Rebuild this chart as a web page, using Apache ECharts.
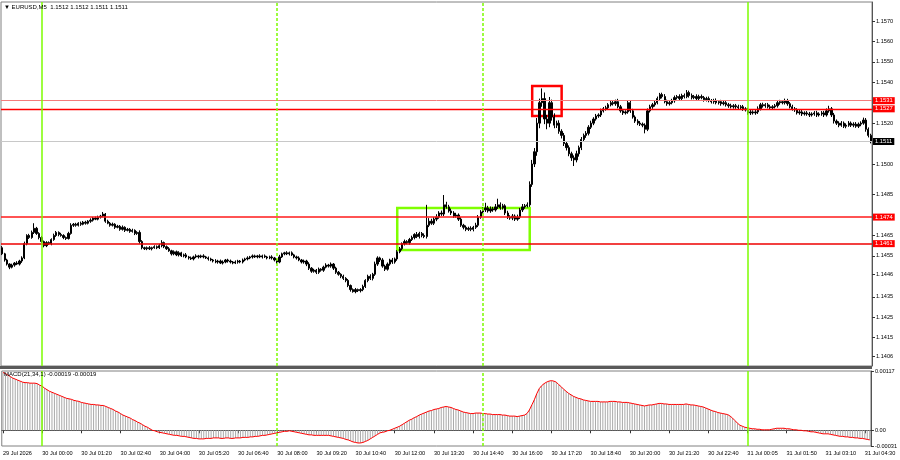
<!DOCTYPE html>
<html><head><meta charset="utf-8">
<script src="https://cdn.jsdelivr.net/npm/echarts@6/dist/echarts.min.js"></script>
<style>html,body{margin:0;padding:0;background:#fff}#c{width:900px;height:460px}</style>
</head><body><div id="c"></div>
<script>
const titleText = '\u25BC EURUSD,M5  1.1512 1.1512 1.1511 1.1511';
const macdText = 'MACD(21,34,1) -0.00019 -0.00019';
const tickLabels = ['29 Jul 2026','30 Jul 00:00','30 Jul 01:20','30 Jul 02:40','30 Jul 04:00','30 Jul 05:20','30 Jul 06:40','30 Jul 08:00','30 Jul 09:20','30 Jul 10:40','30 Jul 12:00','30 Jul 13:20','30 Jul 14:40','30 Jul 16:00','30 Jul 17:20','30 Jul 18:40','30 Jul 20:00','30 Jul 21:20','30 Jul 22:40','31 Jul 00:05','31 Jul 01:50','31 Jul 03:10','31 Jul 04:30'];
const priceTicks = [1.1570,1.1560,1.1550,1.1540,1.1520,1.1500,1.1485,1.1465,1.1455,1.1446,1.1435,1.1425,1.1415,1.1406];
const priceMin = 1.14011, priceMax = 1.15793;
const macdTicks = [0.00117, 0, -0.00031];
const macdMin = -0.00031, macdMax = 0.00117;
const firstOpen = 1.14590;
const closes = [
1.14560,1.14530,1.14510,1.14495,1.14505,1.14515,1.14510,1.14525,1.14540,1.14610,
1.14650,1.14640,1.14665,1.14685,1.14660,1.14640,1.14620,1.14600,1.14615,1.14610,
1.14630,1.14650,1.14665,1.14655,1.14650,1.14640,1.14635,1.14660,1.14700,1.14705,
1.14700,1.14710,1.14705,1.14715,1.14710,1.14720,1.14725,1.14735,1.14730,1.14740,
1.14745,1.14755,1.14720,1.14710,1.14700,1.14705,1.14690,1.14695,1.14680,1.14690,
1.14675,1.14680,1.14670,1.14675,1.14660,1.14665,1.14620,1.14590,1.14585,1.14590,
1.14585,1.14590,1.14595,1.14590,1.14600,1.14615,1.14595,1.14585,1.14575,1.14560,
1.14570,1.14555,1.14565,1.14550,1.14555,1.14545,1.14540,1.14535,1.14545,1.14550,
1.14545,1.14550,1.14545,1.14540,1.14535,1.14530,1.14525,1.14520,1.14525,1.14515,
1.14520,1.14530,1.14525,1.14520,1.14515,1.14520,1.14525,1.14520,1.14530,1.14535,
1.14540,1.14545,1.14550,1.14545,1.14550,1.14545,1.14550,1.14545,1.14540,1.14545,
1.14540,1.14530,1.14520,1.14545,1.14560,1.14565,1.14560,1.14565,1.14555,1.14545,
1.14540,1.14530,1.14520,1.14525,1.14510,1.14490,1.14475,1.14480,1.14470,1.14485,
1.14480,1.14495,1.14505,1.14500,1.14510,1.14490,1.14470,1.14460,1.14450,1.14440,
1.14430,1.14405,1.14385,1.14375,1.14385,1.14380,1.14385,1.14400,1.14430,1.14450,
1.14440,1.14460,1.14510,1.14540,1.14530,1.14500,1.14485,1.14510,1.14530,1.14520,
1.14535,1.14570,1.14585,1.14610,1.14620,1.14615,1.14630,1.14640,1.14655,1.14645,
1.14660,1.14650,1.14645,1.14700,1.14720,1.14710,1.14730,1.14740,1.14760,1.14755,
1.14800,1.14790,1.14770,1.14760,1.14745,1.14750,1.14730,1.14700,1.14690,1.14680,
1.14685,1.14680,1.14690,1.14700,1.14740,1.14765,1.14775,1.14785,1.14770,1.14780,
1.14775,1.14790,1.14800,1.14785,1.14795,1.14760,1.14740,1.14735,1.14745,1.14730,
1.14740,1.14775,1.14790,1.14795,1.14800,1.14900,1.15000,1.15060,1.15200,1.15300,
1.15320,1.15220,1.15200,1.15300,1.15230,1.15190,1.15200,1.15160,1.15140,1.15100,
1.15080,1.15050,1.15030,1.15020,1.15050,1.15080,1.15120,1.15140,1.15150,1.15180,
1.15200,1.15220,1.15235,1.15240,1.15260,1.15270,1.15275,1.15290,1.15300,1.15295,
1.15305,1.15280,1.15260,1.15250,1.15255,1.15300,1.15260,1.15230,1.15210,1.15200,
1.15195,1.15190,1.15170,1.15260,1.15280,1.15290,1.15300,1.15320,1.15340,1.15330,
1.15305,1.15295,1.15300,1.15310,1.15325,1.15330,1.15320,1.15335,1.15330,1.15350,
1.15335,1.15325,1.15330,1.15320,1.15330,1.15325,1.15315,1.15320,1.15310,1.15305,
1.15310,1.15300,1.15305,1.15295,1.15300,1.15290,1.15285,1.15280,1.15285,1.15280,
1.15275,1.15280,1.15270,1.15265,1.15250,1.15255,1.15250,1.15255,1.15270,1.15290,
1.15285,1.15290,1.15280,1.15275,1.15280,1.15285,1.15300,1.15305,1.15300,1.15310,
1.15295,1.15280,1.15270,1.15265,1.15250,1.15255,1.15245,1.15250,1.15245,1.15240,
1.15245,1.15250,1.15240,1.15245,1.15250,1.15240,1.15260,1.15270,1.15240,1.15210,
1.15200,1.15190,1.15200,1.15185,1.15190,1.15200,1.15190,1.15195,1.15185,1.15195,
1.15200,1.15215,1.15170,1.15140,1.15110];
// wick extension above the body top / below the body bottom, in points (0.00001)
const highExt = [
8,5,6,4,7,5,9,6,8,10,6,8,9,25,7,6,8,5,7,6,
6,9,7,5,8,6,5,8,10,6,7,5,8,6,7,5,9,6,8,7,
6,10,5,7,6,8,5,7,6,9,5,7,6,8,5,6,10,7,5,6,
8,5,7,6,9,12,5,6,8,5,7,6,8,5,6,9,5,7,6,8,
5,6,8,5,7,6,5,9,6,7,8,5,6,7,5,8,6,5,7,6,
8,5,7,6,5,8,6,7,5,6,8,5,7,10,6,5,8,6,7,5,
6,8,5,7,6,9,5,7,6,8,5,7,9,6,8,5,7,6,5,8,
6,7,5,6,8,5,7,9,6,8,10,7,12,8,6,9,7,8,6,10,
7,8,9,6,10,7,8,9,6,12,8,7,10,100,15,12,10,14,9,12,
48,15,10,12,9,11,8,10,7,9,8,10,7,12,10,9,12,25,10,12,
10,14,30,12,10,8,11,9,10,8,12,10,14,9,12,15,20,18,25,20,
50,30,20,28,15,18,12,14,10,12,9,11,10,12,15,10,12,9,11,10,
12,9,10,8,11,9,10,8,12,9,10,14,9,10,8,12,9,10,8,9,
10,8,9,12,10,9,11,10,8,9,12,10,8,9,10,8,11,9,10,12,
9,10,8,11,9,10,8,9,10,8,9,11,8,9,10,8,9,10,8,9,
10,8,9,8,10,9,8,10,12,9,10,8,9,10,8,9,11,9,8,10,
9,8,10,9,8,10,9,8,9,10,8,9,10,8,9,10,12,15,9,10,
8,9,10,8,9,10,8,9,10,8,9,12,10,9,8];
const lowExt = [
6,8,7,10,6,8,5,7,9,6,8,7,6,8,7,9,6,8,7,6,
8,6,7,9,6,8,7,5,6,8,7,6,8,5,7,6,8,7,5,6,
7,6,8,5,7,6,8,5,7,6,8,5,7,6,8,7,10,8,6,7,
6,8,5,7,6,8,7,6,5,8,7,6,8,5,7,6,8,5,7,6,
8,6,7,5,8,6,7,6,8,5,7,6,8,7,6,5,8,6,7,6,
7,6,8,5,7,6,8,5,7,6,8,7,10,6,5,7,6,8,5,7,
8,6,7,8,10,9,8,7,9,8,7,8,6,7,8,9,8,7,9,8,
9,8,10,5,8,7,9,8,7,9,8,10,8,9,10,8,9,7,8,9,
8,9,7,8,9,8,10,7,9,8,10,9,8,10,9,8,9,10,8,9,
10,9,8,10,9,8,9,8,10,9,8,9,10,8,9,8,9,10,8,9,
9,8,10,9,8,10,9,8,10,9,8,9,10,9,8,10,12,15,20,25,
20,25,30,20,18,15,14,12,15,12,14,12,15,30,12,14,12,10,12,10,
9,10,8,9,10,8,9,10,8,9,10,8,9,10,8,9,10,8,9,10,
9,10,20,9,8,10,9,8,10,9,8,10,9,8,10,9,8,10,9,8,
10,9,8,10,9,8,10,9,8,9,10,8,9,10,8,9,10,8,9,10,
8,9,10,8,9,10,8,9,10,8,9,10,8,9,10,8,9,10,8,9,
10,8,9,10,8,9,10,8,9,10,8,9,10,8,9,10,8,9,10,12,
9,10,8,9,10,8,9,10,8,9,10,8,12,10,9];
// MACD(21,34,1) main value per bar, in points (0.00001)
const macdPts = [
114,112,109,106,103,101,99,97,95,94,94,93,93,93,92,89,87,83,80,77,
75,73,71,69,67,65,63,62,61,59,58,57,55,54,53,52,51,51,50,50,
49,49,47,45,43,41,38,36,33,30,28,26,24,21,19,16,14,11,8,6,
3,0,-1,-3,-4,-5,-6,-7,-8,-9,-10,-10,-11,-12,-12,-13,-14,-15,-16,-16,
-17,-17,-17,-16,-16,-16,-15,-15,-15,-16,-16,-15,-15,-16,-16,-15,-15,-15,-14,-14,
-14,-13,-13,-12,-12,-11,-10,-10,-9,-8,-7,-6,-5,-4,-3,-2,-2,-1,-2,-3,
-4,-5,-6,-7,-8,-9,-9,-10,-10,-10,-10,-10,-10,-10,-11,-12,-13,-14,-15,-16,
-18,-19,-21,-23,-24,-25,-25,-24,-22,-20,-17,-14,-11,-8,-5,-4,-3,-1,0,2,
4,6,8,11,14,17,20,22,25,27,30,32,34,36,38,39,41,42,43,45,
46,47,46,45,43,41,40,38,36,35,34,33,33,34,34,34,33,33,32,32,
31,31,31,31,30,30,29,28,28,28,27,28,29,30,33,40,50,60,72,82,
88,92,95,97,98,97,95,90,86,81,77,73,70,67,65,63,62,60,59,58,
57,57,57,57,56,56,56,56,57,57,57,56,56,55,55,55,54,53,52,51,
50,49,48,49,50,50,51,52,53,53,52,52,51,51,51,51,51,51,51,52,
51,50,50,49,48,47,46,44,42,40,38,37,35,34,33,32,31,28,24,19,
14,10,8,6,5,4,3,3,2,2,1,1,1,1,2,3,4,4,4,4,
3,3,2,1,1,0,0,-1,-1,-2,-3,-3,-4,-5,-6,-7,-7,-7,-8,-9,
-10,-11,-12,-12,-13,-13,-14,-14,-15,-15,-16,-16,-17,-18,-19];
// horizontal levels: [price, lineColor, labelColor, lineWidth]
const levels = [[1.1531,'#f47c7c','#ff0000',1],[1.1527,'#ff0000','#ff0000',1.3],[1.1474,'#ff1a1a','#ff0000',1.5],[1.1461,'#ee0000','#ff0000',1.5]];
const bidPrice = 1.1511;
// vertical separators: [bar index, dashed]
const vLines = [[16,false],[112,true],[196,true],[304,false]];
// boxes: [startBar, endBar, topPrice, bottomPrice, color]
const boxes = [[161,215,1.14785,1.14579,'#7fff00'],[216,228,1.15382,1.15235,'#ff0000']];

const FONT = 'Liberation Sans, Arial, sans-serif';
const categories = closes.map((_, i) => i % 16 === 0 ? tickLabels[i / 16] : 'b' + i);
const ohlc = closes.map((c, i) => {
  const o = i === 0 ? firstOpen : closes[i - 1];
  const hi = Math.max(o, c) + highExt[i] * 1e-5;
  const lo = Math.min(o, c) - lowExt[i] * 1e-5;
  return [o, c, +lo.toFixed(5), +hi.toFixed(5)];
});
const macd = macdPts.map(v => +(v * 1e-5).toFixed(5));

const labelStyle = (bg) => ({show: true, position: 'end', distance: 1, color: '#fff', backgroundColor: bg,
  padding: [1, 2, 0, 2], fontSize: 5.8, fontFamily: FONT, formatter: p => Number(p.value).toFixed(4)});
const vLineData = vLines.map(([idx, dashed]) => ({xAxis: idx,
  lineStyle: {color: '#7cfc00', width: 1.5, type: dashed ? [3, 2] : 'solid'}, label: {show: false}}));

// one helper series per horizontal level so each keeps its own colour
const levelSeries = [[bidPrice, '#c8c8c8', '#000000', 1]].concat(levels).map(([p, lc, bg, w]) => ({
  type: 'line', xAxisIndex: 0, yAxisIndex: 0, data: [], silent: true, color: lc,
  markLine: {symbol: ['none', 'none'], precision: 5, silent: true, animation: false,
    lineStyle: {color: lc, width: w, type: 'solid', opacity: 1}, label: labelStyle(bg),
    emphasis: {disabled: true},
    data: [{yAxis: p}]}
}));

const chart = echarts.init(document.getElementById('c'), null, {renderer: 'canvas'});
chart.setOption({
  animation: false,
  backgroundColor: '#fff',
  grid: [
    {left: 1, right: 28, top: 2, height: 364, show: true, borderColor: '#808080', borderWidth: 1},
    {left: 1, right: 28, top: 371, height: 75, show: true, borderColor: '#808080', borderWidth: 1}
  ],
  xAxis: [
    {type: 'category', gridIndex: 0, data: categories, boundaryGap: true,
     axisLine: {show: false}, axisTick: {show: false}, axisLabel: {show: false}, splitLine: {show: false}},
    {type: 'category', gridIndex: 1, data: categories, boundaryGap: true,
     axisLine: {show: true, lineStyle: {color: '#555'}},
     axisTick: {show: true, alignWithLabel: true, interval: i => i % 16 === 0, length: 3, lineStyle: {color: '#333'}},
     axisLabel: {interval: i => i % 16 === 0, align: 'left', fontSize: 5.6, fontFamily: FONT, color: '#000', margin: 4},
     splitLine: {show: false}}
  ],
  yAxis: [
    {type: 'value', gridIndex: 0, position: 'right', min: priceMin, max: priceMax, splitLine: {show: false},
     axisLine: {show: true, lineStyle: {color: '#555'}},
     axisTick: {show: true, customValues: priceTicks, length: 3, lineStyle: {color: '#333'}},
     axisLabel: {customValues: priceTicks, formatter: v => v.toFixed(4), fontSize: 5.6, fontFamily: FONT, color: '#000', margin: 4}},
    {type: 'value', gridIndex: 1, position: 'right', min: macdMin, max: macdMax, splitLine: {show: false},
     axisLine: {show: true, lineStyle: {color: '#555'}},
     axisTick: {show: true, customValues: macdTicks, length: 3, lineStyle: {color: '#333'}},
     axisLabel: {customValues: macdTicks, formatter: v => v === 0 ? '0.00' : v.toFixed(5), fontSize: 5.6, fontFamily: FONT, color: '#000', margin: 4}}
  ],
  series: levelSeries.concat([
    {type: 'candlestick', xAxisIndex: 0, yAxisIndex: 0, data: ohlc, barWidth: 1.8, z: 3,
     itemStyle: {color: '#000', color0: '#000', borderColor: '#000', borderColor0: '#000', borderWidth: 1},
     markLine: {symbol: ['none', 'none'], precision: 5, silent: true, animation: false, data: vLineData},
     markArea: {silent: true, data: boxes.map(([a, b, t, btm, col]) => [
       {xAxis: a, yAxis: t, itemStyle: {color: 'rgba(0,0,0,0)', borderColor: col, borderWidth: 2.5}},
       {xAxis: b, yAxis: btm}])}
    },
    {type: 'bar', xAxisIndex: 1, yAxisIndex: 1, data: macd, barWidth: 1,
     itemStyle: {color: '#a9a9a9'},
     markLine: {symbol: ['none', 'none'], precision: 5, silent: true, animation: false, data: vLineData}},
    {type: 'line', xAxisIndex: 1, yAxisIndex: 1, data: macd, symbol: 'none',
     lineStyle: {color: '#ff0000', width: 1}}
  ]),
  graphic: [
    {type: 'rect', left: 0, top: 366, shape: {width: 872, height: 3}, style: {fill: '#5a5a5a'}, z: 100},
    {type: 'text', left: 4, top: 4, style: {text: titleText, fontSize: 6, fontFamily: FONT, fill: '#000'}, z: 100},
    {type: 'text', left: 4, top: 371, style: {text: macdText, fontSize: 6, fontFamily: FONT, fill: '#000'}, z: 100}
  ]
});
</script>
</body></html>
